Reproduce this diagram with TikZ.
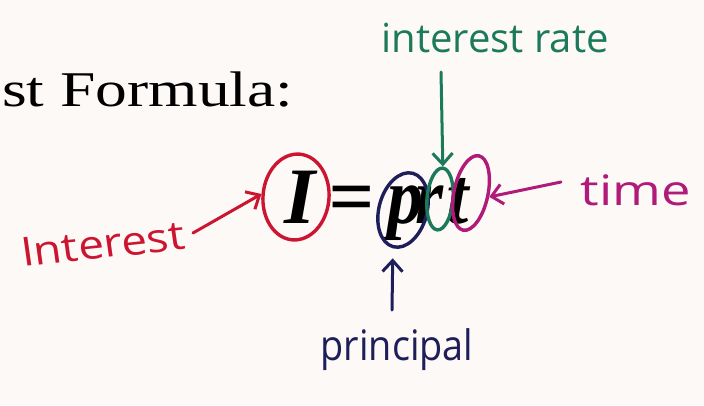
\documentclass[tikz,border=0pt]{standalone}
\usepackage{fontspec}
\usetikzlibrary{shapes.geometric,arrows.meta,calc}
\setmainfont{Liberation Serif}
\newfontfamily\hand{Open Sans}
\definecolor{bgc}{HTML}{FDF9F6}
\definecolor{cred}{HTML}{CC1530}
\definecolor{cnavy}{HTML}{1E1E5A}
\definecolor{cgreen}{HTML}{1C7A5C}
\definecolor{cmag}{HTML}{B01A78}
\tikzset{
  letter/.style={font=\fontsize{80}{80}\selectfont\bfseries\itshape, inner sep=0pt, anchor=base},
  ring/.style={ellipse, draw, line width=3.4pt, inner sep=0pt},
  hw/.style={font=\hand\fontsize{40}{40}\selectfont, inner sep=0pt},
  harrow/.style={line width=3pt, line cap=round, -{Straight Barb[length=11pt,width=20pt,line width=3pt]}}
}
\begin{document}
\begin{tikzpicture}[x=1pt,y=-1pt]
\fill[bgc] (0,0) rectangle (704,405);
\useasboundingbox (0,0) rectangle (704,405);
% title
\node[font=\fontsize{50}{50}\selectfont, inner sep=0pt, anchor=base west, xscale=1.27] (title) at (2,106) {st Formula:};
% formula letters
\node[letter] (nI) at (300,223) {I};
\node[letter] (neq) at (351,223) {=};
\node[letter, xscale=0.9] (np) at (405,223) {p};
\node[letter, xscale=0.9] (nr) at (430,223) {r};
\node[letter] (nt) at (458,223) {t};
% rings
\node[ring, cred, minimum width=66pt, minimum height=86pt, rotate=-5] (eI) at (296,197) {};
\node[ring, cnavy, minimum width=48pt, minimum height=76pt, rotate=-15] (ep) at (403,210) {};
\node[ring, cgreen, minimum width=26pt, minimum height=62pt, rotate=-5] (er) at (440,199) {};
\node[ring, cmag, minimum width=34pt, minimum height=76pt, rotate=-12] (et) at (471,193) {};
% labels
\node[hw, cred, xscale=1.15, rotate=7] (lInterest) at (103,244) {Interest};
\node[hw, cnavy, font=\hand\fontsize{42}{42}\selectfont, xscale=0.9] (lprincipal) at (397,350) {principal};
\node[hw, cgreen] (lrate) at (495,38) {interest rate};
\node[hw, cmag, font=\hand\fontsize{42}{42}\selectfont, xscale=1.25] (ltime) at (636,190) {time};
% arrow tails
\coordinate (tI) at (193,233);
\coordinate (tp) at (392,310);
\coordinate (tr) at (441,72);
\coordinate (tt) at (561,182);
\draw[harrow, cred] (tI) -- (eI.west);
\draw[harrow, cnavy] (tp) -- ($(ep.south)+(0,10)$);
\draw[harrow, cgreen] (tr) -- (er.north);
\draw[harrow, cmag] (tt) -- (et.east);
\end{tikzpicture}
\end{document}
